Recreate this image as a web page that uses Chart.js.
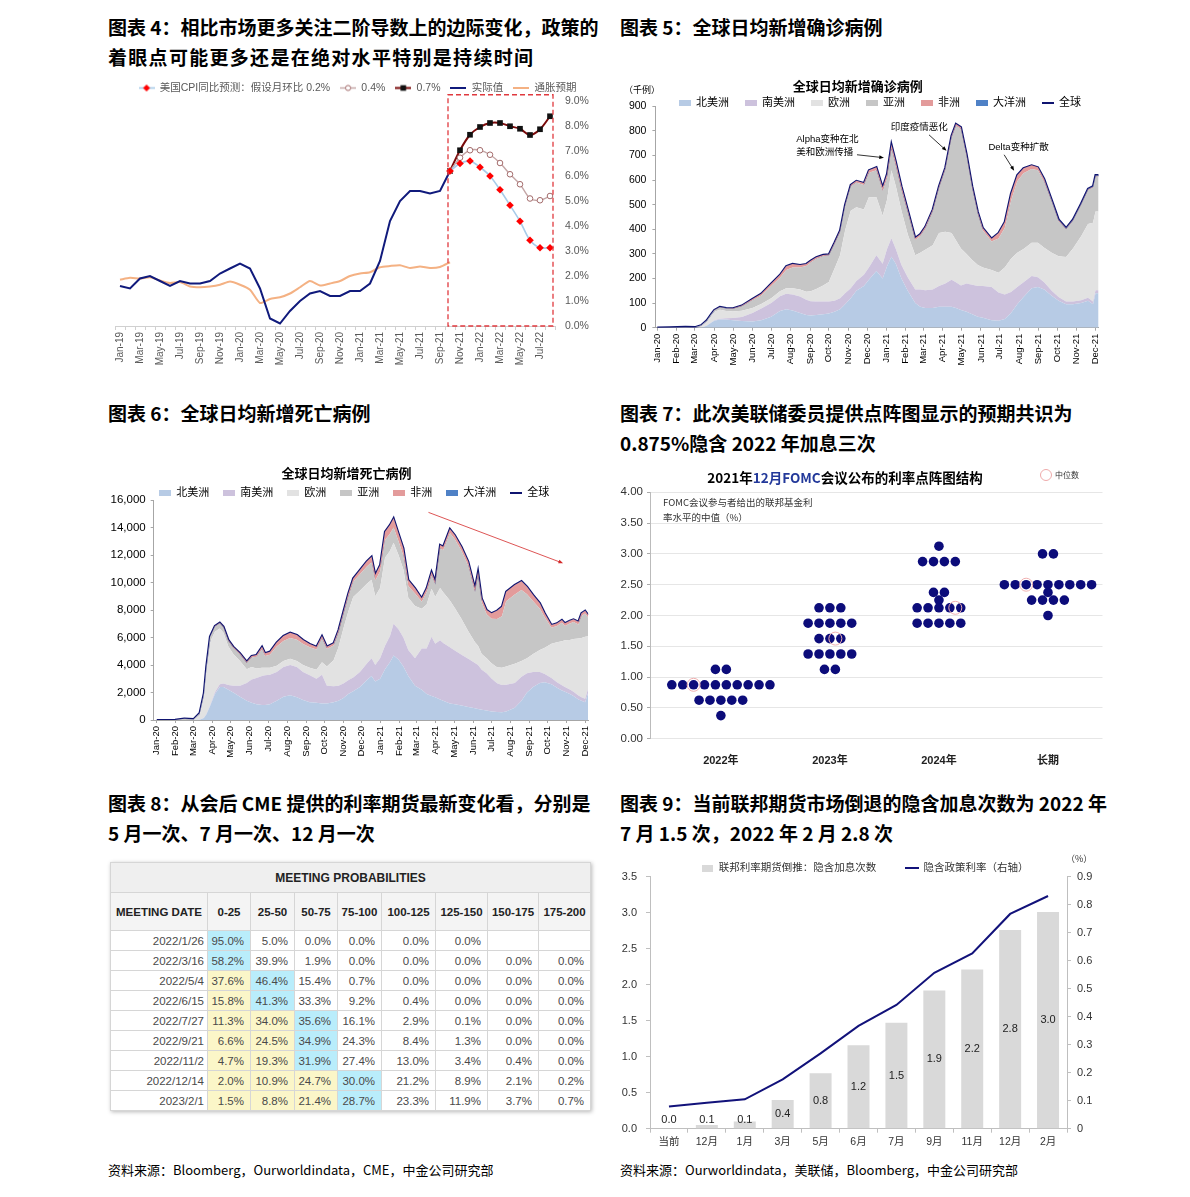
<!DOCTYPE html>
<html lang="zh-CN">
<head>
<meta charset="utf-8">
<title>图表 4-9</title>
<script src="https://cdn.jsdelivr.net/npm/chart.js@4.4.1/dist/chart.umd.min.js"></script>
<style>
  html, body { margin: 0; padding: 0; background: #fff; }
  body { position: relative; width: 1190px; height: 1197px; overflow: hidden; font-family: "Noto Sans CJK SC", "Noto Sans", sans-serif; color: #000; }
  canvas { position: absolute; }
  .fig { position: absolute; font-weight: bold; font-size: 19px; line-height: 30px; white-space: nowrap; }
  .src { position: absolute; top: 1161px; font-size: 13px; line-height: 18px; white-space: nowrap; }
  .note { position: absolute; white-space: nowrap; }
  #cme { position: absolute; left: 110px; top: 862px; border-collapse: collapse; table-layout: fixed; width: 480px;
         font-family: "Liberation Sans", Arial, sans-serif; font-size: 11.5px; color: #4a4a4a; box-shadow: 1px 1px 4px rgba(0,0,0,.28); }
  #cme th, #cme td { border: 1px solid #d6d6d6; padding: 0 6px 0 0; text-align: right; overflow: hidden; white-space: nowrap; }
  #cme tr.cap th { height: 29px; background: #efefef; text-align: center; font-size: 12px; color: #222; padding: 0; }
  #cme tr.head th { height: 37px; background: #f4f4f4; text-align: center; color: #222; padding: 0; }
  #cme td { height: 19px; }
  #cme td.date { padding-right: 3px; }
  #cme td.top { background: #b9edfb; }
  #cme td.lo { background: #fbf6c8; }
</style>
</head>
<body>
<div class="fig" style="left:108px;top:12px">图表 4：相比市场更多关注二阶导数上的边际变化，政策的<br><span style="letter-spacing:1.3px">着眼点可能更多还是在绝对水平特别是持续时间</span></div>
<div class="fig" style="left:620px;top:12px">图表 5：全球日均新增确诊病例</div>
<div class="fig" style="left:108px;top:398px">图表 6：全球日均新增死亡病例</div>
<div class="fig" style="left:620px;top:398px">图表 7：此次美联储委员提供点阵图显示的预期共识为<br>0.875%隐含 2022 年加息三次</div>
<div class="fig" style="left:108px;top:788px">图表 8：从会后 CME 提供的利率期货最新变化看，分别是<br>5 月一次、7 月一次、12 月一次</div>
<div class="fig" style="left:620px;top:788px">图表 9：当前联邦期货市场倒退的隐含加息次数为 2022 年<br>7 月 1.5 次，2022 年 2 月 2.8 次</div>

<canvas id="c4" width="495" height="307" style="left:105px;top:78px"></canvas>
<canvas id="c5" width="495" height="305" style="left:615px;top:78px"></canvas>
<canvas id="c6" width="495" height="308" style="left:105px;top:462px"></canvas>
<canvas id="c7" width="498" height="303" style="left:612px;top:462px"></canvas>
<canvas id="c9" width="498" height="303" style="left:612px;top:852px"></canvas>

<div class="note" style="left:624px;top:83px;font-size:9px;line-height:14px">（千例）</div>
<div class="note" style="left:700px;top:468px;width:290px;text-align:center;font-weight:bold;font-size:13.5px;line-height:18px">2021年<span style="color:#23399a">12月FOMC</span>会议公布的利率点阵图结构</div>
<div class="note" style="left:1040px;top:469px;width:10px;height:10px;border:1px solid #eeaaaa;border-radius:50%"></div>
<div class="note" style="left:1055px;top:469px;font-size:8px;line-height:11px;color:#333">中位数</div>
<div class="note" style="left:663px;top:495px;font-size:9.5px;line-height:15px;color:#333">FOMC会议参与者给出的联邦基金利<br>率水平的中值（%）</div>
<div class="note" style="left:1066px;top:853px;font-size:9px;line-height:12px;color:#333">（%）</div>

<table id="cme"></table>

<div class="src" style="left:108px">资料来源：Bloomberg，Ourworldindata，CME，中金公司研究部</div>
<div class="src" style="left:620px">资料来源：Ourworldindata，美联储，Bloomberg，中金公司研究部</div>

<script>
// ---------- 图表 4: US CPI ----------
const months = ['Jan-19','Feb-19','Mar-19','Apr-19','May-19','Jun-19','Jul-19','Aug-19','Sep-19','Oct-19','Nov-19','Dec-19',
  'Jan-20','Feb-20','Mar-20','Apr-20','May-20','Jun-20','Jul-20','Aug-20','Sep-20','Oct-20','Nov-20','Dec-20',
  'Jan-21','Feb-21','Mar-21','Apr-21','May-21','Jun-21','Jul-21','Aug-21','Sep-21','Oct-21','Nov-21','Dec-21',
  'Jan-22','Feb-22','Mar-22','Apr-22','May-22','Jun-22','Jul-22','Aug-22'];
const cpiActual = [1.6,1.5,1.9,2.0,1.8,1.6,1.8,1.7,1.7,1.8,2.1,2.3,
  2.5,2.3,1.5,0.3,0.1,0.6,1.0,1.3,1.4,1.2,1.2,1.4,
  1.4,1.7,2.6,4.2,5.0,5.4,5.4,5.3,5.4,6.2];
const inflationExp = [1.85,1.93,1.9,1.95,1.82,1.72,1.76,1.58,1.55,1.58,1.65,1.78,
  1.65,1.45,0.92,1.08,1.15,1.3,1.55,1.8,1.62,1.7,1.8,2.0,
  2.1,2.15,2.35,2.4,2.43,2.32,2.38,2.32,2.36,2.55];
const forecastMonths = ['Oct-21','Nov-21','Dec-21','Jan-22','Feb-22','Mar-22','Apr-22','May-22','Jun-22','Jul-22','Aug-22'];
const cpiMoM02 = [6.2,6.5,6.6,6.35,6.0,5.45,4.83,4.19,3.43,3.13,3.13];
const cpiMoM04 = [6.2,6.73,7.03,7.03,6.85,6.52,6.07,5.67,5.1,5.03,5.2];
const cpiMoM07 = [6.2,7.03,7.65,7.96,8.12,8.12,7.99,7.89,7.64,7.87,8.39];

// ---------- 图表 5 / 6: daily new cases & deaths (day 0 = 2020-01-01) ----------
const monthTickDays = [0,31,60,91,121,152,182,213,244,274,305,335,366,397,425,456,486,517,547,578,609,639,670,700];
const monthTickLabels = ['Jan-20','Feb-20','Mar-20','Apr-20','May-20','Jun-20','Jul-20','Aug-20','Sep-20','Oct-20','Nov-20','Dec-20',
  'Jan-21','Feb-21','Mar-21','Apr-21','May-21','Jun-21','Jul-21','Aug-21','Sep-21','Oct-21','Nov-21','Dec-21'];
const continents = ['北美洲','南美洲','欧洲','亚洲','非洲','大洋洲'];

const caseDays = [0,20,45,60,70,79,86,91,100,110, 121,135,152,166,182,196,206,216,228,238,
  245,254,265,274,283,292,300,309,318,330, 338,350,360,367,374,381,390,400,412,420,
  428,440,450,460,470,477,485,494,503,512, 520,534,545,555,565,575,585,598,608,618,
  630,641,653,664,677,688,696,700,705];
const caseNA = [0,0,0,0,1,8,20,28,33,33, 30,27,25,30,45,68,75,70,60,52,
  50,52,55,58,65,75,95,120,150,170, 195,230,200,250,288,260,200,150,100,85,
  80,80,85,85,85,80,72,65,55,45, 40,30,28,35,60,95,125,160,165,155,
  130,110,95,95,100,110,95,140,140];
const caseSA = [0,0,0,0,0,0.5,1.5,2,3,5, 9,17,35,48,55,60,63,65,67,62,
  58,55,52,48,45,45,45,40,40,45, 50,65,60,70,76,60,55,55,55,70,
  72,75,85,95,110,105,100,115,120,125, 130,135,115,100,85,70,60,50,40,30,
  20,15,12,12,12,12,12,12,12];
const caseEU = [0,0,0,0.5,6,17,28,35,37,30, 27,25,20,18,20,20,22,25,28,32,
  40,50,65,80,130,175,255,315,300,265, 285,235,195,200,276,255,220,175,140,150,
  165,180,215,210,190,170,150,120,100,85, 75,70,80,110,135,140,135,135,140,140,
  155,165,180,215,260,300,320,320,320];
const caseAS = [0,1,3,1.5,3,4,5,6,10,10, 11,18,32,35,50,55,75,85,90,105,
  117,123,119,107,100,95,100,100,100,100, 100,110,100,90,87,82,85,90,62,68,
  85,138,183,253,388,466,486,398,292,207, 150,115,140,160,235,290,308,300,295,268,
  208,143,113,113,128,138,143,143,143];
const caseAF = [0,0,0,0,0,0,0.3,0.5,1,1.5, 2,3,5,7,10,12,15,14,10,8,
  7,6,5,5,5,5,5,5,7,8, 10,12,15,15,18,18,15,10,8,7,
  8,7,7,7,7,7,7,7,8,8, 10,12,22,25,30,25,20,15,12,10,
  5,5,3,3,3,3,3,3,3];
const caseOC = [0,0,0,0,0,0.2,0.3,0.3,0.3,0.1, 0,0,0,0,0,0.3,0.4,0.4,0.2,0.1,
  0,0,0,0,0,0,0,0,0,0, 0,0,0,0,0,0,0,0,0,0,
  0,0,0,0,0,0,0,0,0,0, 0,0,0,0,0,0,0,0,0.5,2,
  2,2,2,2,2,2,2,2,2];
const caseWorld = [0,1,3,2,10,30,55,72,85,80, 79,90,117,138,180,215,250,259,255,259,
  272,286,296,298,345,395,500,580,597,588, 640,652,570,625,745,675,575,480,365,380,
  410,480,575,650,780,828,815,705,575,470, 405,362,385,430,545,620,648,660,652,605,
  520,440,405,440,505,565,575,620,620];

const deathDays = [0,30,45,60,70,77,81,87,95,103, 109,117,125,136,147,155,163,172,177,185,
  196,207,218,229,239,250,261,270,278,289, 297,305,313,321,332,343,351,357,365,373,
  381,387,395,403,411,422,433,441,449,455, 463,468,479,487,498,509,520,525,531,539,
  547,556,564,571,585,596,605,615,626,634, 645,654,662,667,675,681,689,694,700,705];
const deathNA = [0,0,0,0,20,150,400,1000,1900,2400, 2400,2200,2000,1700,1400,1250,1150,1100,1100,1150,
  1400,1700,1800,1650,1450,1300,1250,1200,1200,1300, 1400,1600,1900,2100,2400,2900,3200,2800,3000,3700,
  4200,4700,4400,3900,3200,2500,2200,1900,1750,1650, 1500,1400,1200,1150,1050,950,850,800,750,700,
  620,580,560,620,900,1400,2000,2400,2700,2750, 2600,2350,2150,2050,1900,1750,1500,1400,1300,2000];
const deathSA = [0,0,0,0,0,10,30,60,120,200, 250,350,500,800,1300,1700,1900,2100,2150,2150,
  2100,2150,2200,2200,2050,1950,1750,2100,1300,1150, 1100,1050,1000,1000,1100,1200,1300,1200,1500,1700,
  1900,2300,2200,2100,1900,2000,3000,3300,4300,3900, 4300,4200,4100,3900,3700,3500,3300,3200,2900,2700,
  2400,2100,1990,1950,1800,1750,1400,1100,800,600, 450,400,380,350,320,300,280,260,250,300];
const deathEU = [0,0,0,10,400,1600,3200,4600,4400,4050, 3700,2800,2300,1800,1000,900,700,600,550,500,
  450,450,450,450,500,550,650,900,1400,1900, 2800,4000,5000,5850,5900,5800,5700,5000,5100,6400,
  6200,5900,5400,4950,3800,3800,2900,3200,3500,3400, 3800,3700,3400,3100,2600,2000,1500,1400,1150,1100,
  1100,1150,1250,1330,1400,1150,1100,1300,1600,1900, 2500,2900,3200,3400,3600,3850,4150,4300,4500,3800];
const deathAS = [0,5,100,50,80,170,230,370,380,380, 380,400,450,470,450,700,850,1350,850,950,
  1400,1450,1520,1540,1520,1500,1480,1730,1260,1060, 1040,1030,1050,1100,1200,1250,1280,1150,1200,1300,
  1250,1100,1000,1000,850,900,500,900,1000,900, 2900,3040,4900,5000,4950,4770,3630,5090,3750,3200,
  3240,3520,3740,4730,5020,5150,4650,3840,3000,2210, 1160,1180,1340,1030,1200,1220,1020,1600,1700,1340];
const deathAF = [0,0,0,0,0,10,20,30,40,50, 60,70,80,80,90,100,130,180,200,220,
  280,360,380,340,300,230,200,180,170,170, 200,200,250,250,310,370,400,400,470,600,
  630,670,580,540,440,380,250,280,240,210, 230,260,290,300,300,300,300,300,300,300,
  400,600,700,700,700,650,550,450,400,300, 200,200,200,200,200,200,200,200,200,200];
const deathOC = [0,0,0,0,0,0,0,0,0,0, 0,0,0,0,0,0,0,0,0,0,
  0,0,0,0,0,0,0,0,0,0, 0,0,0,0,0,0,0,0,0,0,
  0,0,0,0,0,0,0,0,0,0, 0,0,0,0,0,0,0,0,0,0,
  5,5,5,5,5,5,5,10,10,10, 15,15,15,15,15,15,15,15,15,15];
const deathWorld = [0,5,100,60,500,1940,3880,6060,6840,7080, 6790,5820,5330,4850,4240,4650,4730,5330,4850,4970,
  5630,6110,6350,6180,5820,5530,5330,6110,5330,5580, 6540,7880,9200,10300,10910,11520,11880,10550,11270,13700,
  14180,14670,13580,12490,10190,9580,8850,9580,10790,10060, 12730,12600,13890,13450,12600,11520,9580,10790,8850,8000,
  7760,7950,8240,9330,9820,10100,9700,9090,8500,7760, 6910,7030,7270,7030,7220,7320,7150,7760,7950,7640];

// ---------- 图表 7: Dec-2021 FOMC dot plot ----------
const dotYears = ['2022年','2023年','2024年','长期'];
const dots2022 = [[1.125,2],[0.875,10],[0.625,5],[0.375,1]];      // [rate, participants]
const dots2023 = [[2.125,3],[1.875,5],[1.625,3],[1.375,5],[1.125,2]];
const dots2024 = [[3.125,1],[2.875,4],[2.375,2],[2.25,1],[2.125,5],[1.875,5]];
const dotsLong = [[3.0,2],[2.5,9],[2.375,1],[2.25,4],[2.0,1]];
const medians = [0.875,1.625,2.125,2.5];
const medianSlot = [2,1.5,3.5,2];

// ---------- 图表 8: CME meeting probabilities ----------
const meetingDates = ['2022/1/26','2022/3/16','2022/5/4','2022/6/15','2022/7/27','2022/9/21','2022/11/2','2022/12/14','2023/2/1'];
const rateBuckets = ['0-25','25-50','50-75','75-100','100-125','125-150','150-175','175-200'];
const meetingProbs = [
  [95.0,5.0,0.0,0.0,0.0,0.0,null,null],
  [58.2,39.9,1.9,0.0,0.0,0.0,0.0,0.0],
  [37.6,46.4,15.4,0.7,0.0,0.0,0.0,0.0],
  [15.8,41.3,33.3,9.2,0.4,0.0,0.0,0.0],
  [11.3,34.0,35.6,16.1,2.9,0.1,0.0,0.0],
  [6.6,24.5,34.9,24.3,8.4,1.3,0.0,0.0],
  [4.7,19.3,31.9,27.4,13.0,3.4,0.4,0.0],
  [2.0,10.9,24.7,30.0,21.2,8.9,2.1,0.2],
  [1.5,8.8,21.4,28.7,23.3,11.9,3.7,0.7]];

// ---------- 图表 9: implied hikes ----------
const hikeMonths = ['当前','12月','1月','3月','5月','6月','7月','9月','11月','12月','2月'];
const impliedHikes = [0.0,0.05,0.1,0.4,0.77,1.16,1.47,1.92,2.21,2.76,3.01];
const impliedRate = [0.079,0.093,0.105,0.176,0.269,0.367,0.442,0.557,0.626,0.767,0.831];

// ---------- shared helpers ----------
Chart.defaults.font.family = '"Liberation Sans", Arial, "Noto Sans CJK SC", sans-serif';
Chart.defaults.color = '#000';
Chart.defaults.animation = false;
Chart.defaults.plugins.tooltip.enabled = false;

function swatch(w, h, paint) {
  const c = document.createElement('canvas');
  c.width = w; c.height = h;
  paint(c.getContext('2d'), w, h);
  return c;
}
const boxMark = (col, w, h) => swatch(w, h, g => { g.fillStyle = col; g.fillRect(0, 0, w, h); });
const lineMark = (col, w, lw) => swatch(w, Math.ceil(lw) + 2, (g, W, H) => { g.fillStyle = col; g.fillRect(0, (H - lw) / 2, W, lw); });

// legend / title boxes with a fixed height, legend drawn with an offset (no clipping)
function fixedBoxes({ legendHeight, legendDx = 0, legendDy = 0, titleHeight }) {
  return {
    id: 'fixedBoxes',
    beforeInit(chart) {
      const lg = chart.legend;
      if (lg && legendHeight !== undefined) {
        const fit = lg.fit, draw = lg.draw;
        lg.fit = function () { fit.call(this); this.height = legendHeight; };
        lg.draw = function () {
          if (!this.options.display) return;
          const c = this.ctx;
          c.save(); c.translate(legendDx, legendDy);
          if (typeof this._draw === 'function') this._draw(); else draw.call(this);
          c.restore();
        };
      }
      const tb = chart.titleBlock;
      if (tb && titleHeight !== undefined) {
        const fit = tb.fit;
        tb.fit = function () { fit.call(this); this.height = titleHeight; };
      }
    }
  };
}

function arrow(ctx, x1, y1, x2, y2, color, head) {
  const a = Math.atan2(y2 - y1, x2 - x1);
  ctx.strokeStyle = color; ctx.fillStyle = color; ctx.lineWidth = 0.8;
  ctx.beginPath(); ctx.moveTo(x1, y1); ctx.lineTo(x2 - Math.cos(a) * head * 0.7, y2 - Math.sin(a) * head * 0.7); ctx.stroke();
  ctx.beginPath(); ctx.moveTo(x2, y2);
  ctx.lineTo(x2 - head * Math.cos(a - 0.38), y2 - head * Math.sin(a - 0.38));
  ctx.lineTo(x2 - head * Math.cos(a + 0.38), y2 - head * Math.sin(a + 0.38));
  ctx.closePath(); ctx.fill();
}

// ---------- chart 4 ----------
const marks4 = [
  swatch(16, 9, (g, w, h) => { g.fillStyle = '#a7cbe9'; g.fillRect(0, 3.7, w, 1.6);
    g.fillStyle = '#ff0000'; g.beginPath(); g.moveTo(8, 1); g.lineTo(11.5, 4.5); g.lineTo(8, 8); g.lineTo(4.5, 4.5); g.fill(); }),
  swatch(16, 9, (g, w, h) => { g.fillStyle = '#c4a6a6'; g.fillRect(0, 3.8, w, 1.4);
    g.fillStyle = '#fff'; g.strokeStyle = '#a36b6b'; g.lineWidth = 1; g.beginPath(); g.arc(8, 4.5, 2.6, 0, 7); g.fill(); g.stroke(); }),
  swatch(16, 9, (g, w, h) => { g.fillStyle = '#7a0a0a'; g.fillRect(0, 3.5, w, 2);
    g.fillStyle = '#111'; g.fillRect(5.2, 1.7, 5.6, 5.6); }),
  lineMark('#101a7c', 16, 2),
  lineMark('#f4b183', 16, 2)
];

const forecastBox = {
  id: 'forecastBox',
  afterDatasetsDraw(chart) {
    const { ctx, scales: { x, y } } = chart;
    const left = x.getPixelForValue(months.indexOf(forecastMonths[0])) - 2;
    const right = x.getPixelForValue(months.length - 1) + 3;
    const top = y.getPixelForValue(9.25), bottom = y.getPixelForValue(0);
    ctx.save();
    ctx.strokeStyle = '#e0393e'; ctx.lineWidth = 1.3; ctx.setLineDash([5, 3]);
    ctx.strokeRect(left, top, right - left, bottom - top);
    ctx.restore();
  }
};

new Chart(document.getElementById('c4'), {
  type: 'line',
  data: {
    labels: months,
    datasets: [
      { label: '美国CPI同比预测：假设月环比 0.2%', data: forecastMonths.map((m, i) => ({ x: m, y: cpiMoM02[i] })),
        borderColor: '#a7cbe9', borderWidth: 1.6, tension: 0.3, pointStyle: 'rectRot', pointRadius: 3.8,
        pointBackgroundColor: '#ff0000', pointBorderColor: '#ff0000', pointBorderWidth: 0 },
      { label: '0.4%', data: forecastMonths.map((m, i) => ({ x: m, y: cpiMoM04[i] })),
        borderColor: '#c4a6a6', borderWidth: 1.4, tension: 0.3, pointStyle: 'circle', pointRadius: 2.8,
        pointBackgroundColor: '#fff', pointBorderColor: '#a36b6b', pointBorderWidth: 1 },
      { label: '0.7%', data: forecastMonths.map((m, i) => ({ x: m, y: cpiMoM07[i] })),
        borderColor: '#7a0a0a', borderWidth: 2, tension: 0.3, pointStyle: 'rect', pointRadius: 4,
        pointBackgroundColor: '#111', pointBorderColor: '#111', pointBorderWidth: 0 },
      { label: '实际值', data: cpiActual, borderColor: '#101a7c', borderWidth: 2, pointRadius: 0, tension: 0 },
      { label: '通胀预期', data: inflationExp, borderColor: '#f4b183', borderWidth: 2, pointRadius: 0, tension: 0.2 }
    ]
  },
  options: {
    responsive: false,
    devicePixelRatio: 1,
    layout: { padding: { top: 1, left: 10, right: 0, bottom: 0 } },
    plugins: {
      legend: {
        labels: {
          usePointStyle: true, pointStyleWidth: 16, padding: 10, color: '#595959', font: { size: 10.5 },
          generateLabels: chart => chart.data.datasets.map((ds, i) => ({
            text: ds.label, pointStyle: marks4[i], datasetIndex: i, hidden: false,
            fontColor: '#595959', lineWidth: 0, strokeStyle: 'rgba(0,0,0,0)', fillStyle: 'rgba(0,0,0,0)'
          }))
        }
      }
    },
    scales: {
      x: {
        offset: true,
        grid: { drawOnChartArea: false, tickLength: 4, color: '#d0d0d0', offset: true },
        border: { color: '#d0d0d0' },
        ticks: { autoSkip: false, minRotation: 90, maxRotation: 90, padding: 2, color: '#595959', font: { size: 10 },
          callback: (v, i) => (i % 2 === 0 ? months[i] : '') },
        afterFit: s => { s.height = 59; }
      },
      y: {
        position: 'right', min: 0, max: 9,
        grid: { display: false, drawTicks: false }, border: { display: false },
        ticks: { stepSize: 1, padding: 10, color: '#595959', font: { size: 10.5 }, callback: v => v.toFixed(1) + '%' },
        afterFit: s => { s.width = 45; }
      }
    }
  },
  plugins: [fixedBoxes({ legendHeight: 22, legendDy: -6.25 }), forecastBox]
});

// ---------- charts 5 & 6 ----------
const continentColors = ['#b7cbe5', '#cdc2dd', '#e2e2e2', '#c6c6c6', '#e39b9b', '#4f81c6'];
function continentSets(days, series, world) {
  const sets = series.map((vals, i) => ({
    label: continents[i], data: days.map((d, j) => ({ x: d, y: vals[j] })),
    backgroundColor: continentColors[i], borderWidth: 0, pointRadius: 0, tension: 0,
    fill: i === 0 ? 'origin' : '-1', yAxisID: 'y'
  }));
  sets.push({ label: '全球', data: days.map((d, j) => ({ x: d, y: world[j] })),
    borderColor: '#0f1470', borderWidth: 2.2, pointRadius: 0, tension: 0, fill: false, yAxisID: 'y2' });
  return sets;
}
const continentLegend = chart => chart.data.datasets.map((ds, i) => ({
  text: ds.label,
  pointStyle: ds.fill === false ? lineMark(ds.borderColor, 12, 2) : boxMark(ds.backgroundColor, 12, 6),
  datasetIndex: i, hidden: false, fontColor: '#000', lineWidth: 0, strokeStyle: 'rgba(0,0,0,0)', fillStyle: 'rgba(0,0,0,0)'
}));
function dayAxis(min, height) {
  return {
    type: 'linear', min, max: 705,
    grid: { drawOnChartArea: false, tickLength: 3, color: '#a6a6a6' },
    border: { color: '#a6a6a6' },
    afterBuildTicks: s => { s.ticks = monthTickDays.map(v => ({ value: v })); },
    ticks: { autoSkip: false, minRotation: 90, maxRotation: 90, padding: 3, font: { size: 9.5 },
      callback: v => monthTickLabels[monthTickDays.indexOf(v)] },
    afterFit: s => { s.height = height; }
  };
}

const caseNotes = [
  { lines: ['Alpha变种在北', '美和欧洲传播'], at: [222, 764], from: [319, 703], to: [362, 691] },
  { lines: ['印度疫情恶化'], at: [373, 813], from: [434, 784], to: [462, 719] },
  { lines: ['Delta变种扩散'], at: [529, 731], from: [554, 703], to: [570, 638] }
];
const caseNotesPlugin = {
  id: 'caseNotes',
  afterDatasetsDraw(chart) {
    const { ctx, scales: { x, y } } = chart;
    ctx.save();
    ctx.font = '9.5px "Liberation Sans", Arial, "Noto Sans CJK SC", sans-serif';
    ctx.textAlign = 'left'; ctx.textBaseline = 'middle'; ctx.fillStyle = '#000';
    caseNotes.forEach(n => {
      n.lines.forEach((t, k) => ctx.fillText(t, x.getPixelForValue(n.at[0]), y.getPixelForValue(n.at[1]) + k * 12.5));
      arrow(ctx, x.getPixelForValue(n.from[0]), y.getPixelForValue(n.from[1]),
        x.getPixelForValue(n.to[0]), y.getPixelForValue(n.to[1]), '#000', 5);
    });
    ctx.restore();
  }
};

new Chart(document.getElementById('c5'), {
  type: 'line',
  data: { datasets: continentSets(caseDays, [caseNA, caseSA, caseEU, caseAS, caseAF, caseOC], caseWorld) },
  options: {
    responsive: false,
    devicePixelRatio: 1,
    layout: { padding: { top: 2, left: 0, right: 9.3, bottom: 0 } },
    plugins: {
      title: { display: true, text: '全球日均新增确诊病例', font: { size: 13, weight: 'bold' }, color: '#000', padding: 0 },
      legend: { labels: { usePointStyle: true, pointStyleWidth: 12, padding: 15.5, font: { size: 11 }, generateLabels: continentLegend } }
    },
    scales: {
      x: dayAxis(-3, 55.3),
      y: {
        stacked: true, min: 0, max: 900,
        grid: { drawOnChartArea: false, tickLength: 3, color: '#a6a6a6' }, border: { color: '#a6a6a6' },
        ticks: { stepSize: 100, padding: 6, font: { size: 10.5 } },
        afterFit: s => { s.width = 40.4; }
      },
      y2: { display: false, min: 0, max: 900 }
    }
  },
  plugins: [fixedBoxes({ titleHeight: 15.6, legendHeight: 10.7, legendDx: 22, legendDy: -13.6 }), caseNotesPlugin]
});

const deathTrend = { from: [444, 15100], to: [664, 11400] };
const deathTrendPlugin = {
  id: 'deathTrend',
  afterDatasetsDraw(chart) {
    const { ctx, scales: { x, y } } = chart;
    ctx.save();
    arrow(ctx, x.getPixelForValue(deathTrend.from[0]), y.getPixelForValue(deathTrend.from[1]),
      x.getPixelForValue(deathTrend.to[0]), y.getPixelForValue(deathTrend.to[1]), '#d42a2a', 5);
    ctx.restore();
  }
};

new Chart(document.getElementById('c6'), {
  type: 'line',
  data: { datasets: continentSets(deathDays, [deathNA, deathSA, deathEU, deathAS, deathAF, deathOC], deathWorld) },
  options: {
    responsive: false,
    devicePixelRatio: 1,
    layout: { padding: { top: 4.2, left: 0, right: 11.8, bottom: 0 } },
    plugins: {
      title: { display: true, text: '全球日均新增死亡病例', font: { size: 13, weight: 'bold' }, color: '#000', padding: 0 },
      legend: { labels: { usePointStyle: true, pointStyleWidth: 12, padding: 13.5, font: { size: 11 }, generateLabels: continentLegend } }
    },
    scales: {
      x: dayAxis(-5, 50),
      y: {
        stacked: true, min: 0, max: 16000,
        grid: { drawOnChartArea: false, tickLength: 3, color: '#a6a6a6' }, border: { color: '#a6a6a6' },
        ticks: { stepSize: 2000, padding: 5, font: { size: 11.5 }, callback: v => v.toLocaleString('en-US') },
        afterFit: s => { s.width = 48.7; }
      },
      y2: { display: false, min: 0, max: 16000 }
    }
  },
  plugins: [fixedBoxes({ titleHeight: 15.6, legendHeight: 18.2, legendDx: 7.5, legendDy: -7.8 }), deathTrendPlugin]
});

// ---------- chart 7 ----------
const dotStep = 0.1;
const dotRows = [dots2022, dots2023, dots2024, dotsLong];
const dotPoints = [];
dotRows.forEach((rows, c) => rows.forEach(([rate, n]) => {
  for (let k = 0; k < n; k++) dotPoints.push({ x: c + (k - (n - 1) / 2) * dotStep, y: rate });
}));
const medianPoints = medians.map((rate, c) => {
  const n = dotRows[c].find(r => r[0] === rate)[1];
  return { x: c + (medianSlot[c] - (n - 1) / 2) * dotStep, y: rate };
});

new Chart(document.getElementById('c7'), {
  type: 'scatter',
  data: {
    datasets: [
      { label: '中位数', data: medianPoints, pointStyle: 'circle', pointRadius: 6.5,
        pointBackgroundColor: 'rgba(255,255,255,0)', pointBorderColor: '#f0b0b0', pointBorderWidth: 1 },
      { label: '点阵', data: dotPoints, pointStyle: 'circle', pointRadius: 4.8,
        pointBackgroundColor: '#0c0c7a', pointBorderWidth: 0 }
    ]
  },
  options: {
    responsive: false,
    devicePixelRatio: 1,
    layout: { padding: { top: 30.3, left: 0, right: 5, bottom: 0 } },
    plugins: { legend: { display: false } },
    scales: {
      x: {
        type: 'linear', min: -0.65, max: 3.5,
        grid: { display: false }, border: { display: false },
        afterBuildTicks: s => { s.ticks = dotYears.map((_, i) => ({ value: i })); },
        ticks: { padding: 8, color: '#222', font: { size: 11, weight: 'bold' }, callback: v => dotYears[v] },
        afterFit: s => { s.height = 26.3; }
      },
      y: {
        min: 0, max: 4,
        grid: { color: '#e6e6e6', tickLength: 3, tickColor: '#aaa' }, border: { color: '#bbb' },
        ticks: { stepSize: 0.25, padding: 4, color: '#333', font: { size: 11.5 }, callback: v => v.toFixed(2) },
        afterFit: s => { s.width = 38; }
      }
    }
  }
});

// ---------- chart 8 (table) ----------
(function buildTable() {
  const t = document.getElementById('cme');
  let html = '<colgroup>' + [97, 43, 44, 43, 44, 54, 52, 51, 52].map(w => `<col style="width:${w}px">`).join('') + '</colgroup>';
  html += '<tr class="cap"><th colspan="9">MEETING PROBABILITIES</th></tr>';
  html += '<tr class="head"><th>MEETING DATE</th>' + rateBuckets.map(b => `<th>${b}</th>`).join('') + '</tr>';
  meetingProbs.forEach((row, r) => {
    const vals = row.filter(v => v !== null);
    const top = row.indexOf(Math.max(...vals));
    html += `<tr><td class="date">${meetingDates[r]}</td>` + row.map((v, j) => {
      const cls = j === top ? 'top' : (j < top ? 'lo' : '');
      return `<td class="${cls}">${v === null ? '' : v.toFixed(1) + '%'}</td>`;
    }).join('') + '</tr>';
  });
  t.innerHTML = html;
})();

// ---------- chart 9 ----------
const barLabels = {
  id: 'barLabels',
  afterDatasetsDraw(chart) {
    const meta = chart.getDatasetMeta(0), ctx = chart.ctx;
    ctx.save();
    ctx.font = '11px "Liberation Sans", Arial, sans-serif';
    ctx.fillStyle = '#222'; ctx.textAlign = 'center'; ctx.textBaseline = 'middle';
    meta.data.forEach((bar, i) => {
      const mid = (bar.y + bar.base) / 2;
      ctx.fillText(impliedHikes[i].toFixed(1), bar.x, Math.min(mid, bar.base - 8.7));
    });
    ctx.restore();
  }
};

new Chart(document.getElementById('c9'), {
  type: 'bar',
  data: {
    labels: hikeMonths,
    datasets: [
      { type: 'bar', label: '联邦利率期货倒推：隐含加息次数', data: impliedHikes, backgroundColor: '#d9d9d9',
        barPercentage: 0.58, categoryPercentage: 1, yAxisID: 'y' },
      { type: 'line', label: '隐含政策利率（右轴）', data: impliedRate, borderColor: '#12127a', borderWidth: 2,
        pointRadius: 0, tension: 0, yAxisID: 'y1' }
    ]
  },
  options: {
    responsive: false,
    devicePixelRatio: 1,
    layout: { padding: { top: 0, left: 0, right: 0, bottom: 0 } },
    plugins: {
      legend: {
        labels: {
          usePointStyle: true, pointStyleWidth: 12, padding: 30, font: { size: 10.5 }, color: '#333',
          generateLabels: () => [
            { text: '联邦利率期货倒推：隐含加息次数', pointStyle: boxMark('#d9d9d9', 11, 7), datasetIndex: 0, hidden: false,
              fontColor: '#333', lineWidth: 0, strokeStyle: 'rgba(0,0,0,0)', fillStyle: 'rgba(0,0,0,0)' },
            { text: '隐含政策利率（右轴）', pointStyle: lineMark('#12127a', 14, 2), datasetIndex: 1, hidden: false,
              fontColor: '#333', lineWidth: 0, strokeStyle: 'rgba(0,0,0,0)', fillStyle: 'rgba(0,0,0,0)' }
          ]
        }
      }
    },
    scales: {
      x: {
        grid: { drawOnChartArea: false, tickLength: 4, color: '#bfbfbf' }, border: { color: '#bfbfbf' },
        ticks: { padding: 3, color: '#333', font: { size: 10.5 } },
        afterFit: s => { s.height = 26.3; }
      },
      y: {
        position: 'left', min: 0, max: 3.5,
        grid: { drawOnChartArea: false, tickLength: 4, color: '#bfbfbf' }, border: { color: '#bfbfbf' },
        ticks: { stepSize: 0.5, padding: 9, color: '#333', font: { size: 11 }, callback: v => v.toFixed(1) },
        afterFit: s => { s.width = 38; }
      },
      y1: {
        position: 'right', min: 0, max: 0.9,
        grid: { drawOnChartArea: false, tickLength: 4, color: '#bfbfbf' }, border: { color: '#bfbfbf' },
        ticks: { stepSize: 0.1, padding: 6, color: '#333', font: { size: 11 }, callback: v => (v === 0 ? '0' : v.toFixed(1)) },
        afterFit: s => { s.width = 43; }
      }
    }
  },
  plugins: [fixedBoxes({ legendHeight: 24.7, legendDx: 4, legendDy: -19.25 }), barLabels]
});
</script>
</body>
</html>
